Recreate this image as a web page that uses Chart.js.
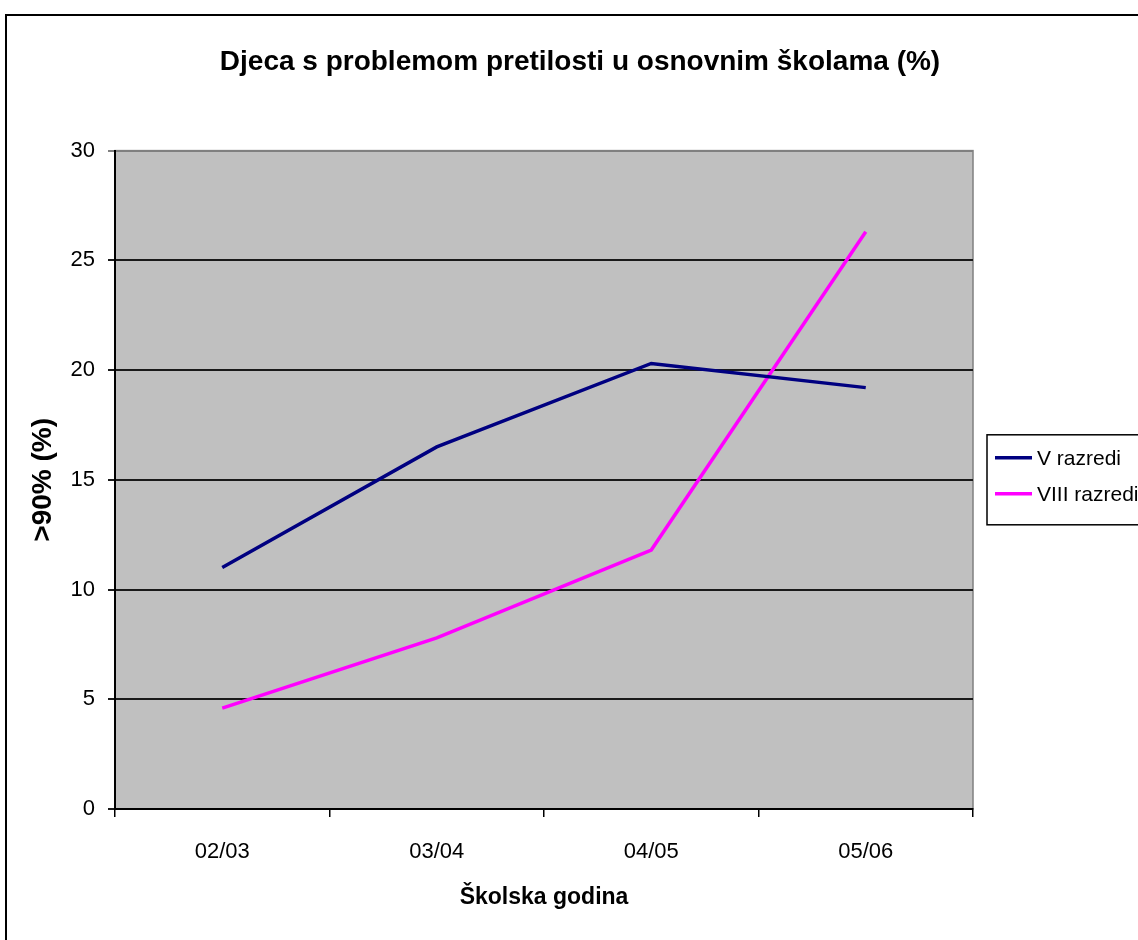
<!DOCTYPE html>
<html>
<head>
<meta charset="utf-8">
<script src="https://cdn.jsdelivr.net/npm/chart.js@4"></script>
<style>
  html, body { margin: 0; padding: 0; background: #fff; overflow: hidden; }
  #wrap { position: absolute; left: 0; top: 0; width: 1160px; height: 940px; }
</style>
</head>
<body>
<div id="wrap"><canvas id="chart" width="1160" height="940"></canvas></div>
<script>
// School years on the x axis
const categories = ['02/03', '03/04', '04/05', '05/06'];
// Share of obese children (%), grade V and grade VIII
const gradeV = [11.0, 16.5, 20.3, 19.2];
const gradeVIII = [4.6, 7.8, 11.8, 26.3];
const seriesNames = ['V razredi', 'VIII razredi'];
const seriesColors = ['#000080', '#FF00FF'];
const yTicks = [0, 5, 10, 15, 20, 25, 30];

const FONT = "'Liberation Sans', Arial, sans-serif";

// Grey plot background, plot frame and outer frame of the figure
const backdrop = {
  id: 'backdrop',
  beforeDraw(chart) {
    const { ctx, chartArea: a } = chart;
    ctx.save();
    ctx.fillStyle = '#fff';
    ctx.fillRect(0, 0, chart.width, chart.height);
    ctx.strokeStyle = '#000';
    ctx.lineWidth = 2;
    ctx.strokeRect(6, 15, 1400, 1400);
    ctx.fillStyle = '#C0C0C0';
    ctx.fillRect(a.left, a.top, a.right - a.left, a.bottom - a.top);
    ctx.strokeStyle = '#808080';
    ctx.lineWidth = 1.5;
    ctx.strokeRect(a.left, a.top, a.right - a.left, a.bottom - a.top);
    ctx.restore();
  }
};

// Boxed legend to the right of the plot
const boxLegend = {
  id: 'boxLegend',
  afterDraw(chart) {
    const { ctx, chartArea: a } = chart;
    const x = a.right + 14, h = 90, y = (a.top + a.bottom) / 2 - h / 2;
    ctx.save();
    ctx.fillStyle = '#fff';
    ctx.fillRect(x, y, 300, h);
    ctx.strokeStyle = '#000';
    ctx.lineWidth = 1.5;
    ctx.strokeRect(x, y, 300, h);
    ctx.font = '21px ' + FONT;
    ctx.textBaseline = 'middle';
    ctx.textAlign = 'left';
    chart.data.datasets.forEach((ds, i) => {
      const ly = y + 23 + i * 36;
      ctx.strokeStyle = ds.borderColor;
      ctx.lineWidth = 3.5;
      ctx.beginPath();
      ctx.moveTo(x + 8, ly);
      ctx.lineTo(x + 45, ly);
      ctx.stroke();
      ctx.fillStyle = '#000';
      ctx.fillText(ds.label, x + 50, ly + 1);
    });
    ctx.restore();
  }
};

new Chart(document.getElementById('chart'), {
  type: 'line',
  data: {
    labels: categories,
    datasets: [
      { label: seriesNames[0], data: gradeV, borderColor: seriesColors[0], backgroundColor: seriesColors[0],
        borderWidth: 3.5, pointRadius: 0, tension: 0, fill: false },
      { label: seriesNames[1], data: gradeVIII, borderColor: seriesColors[1], backgroundColor: seriesColors[1],
        borderWidth: 3.5, pointRadius: 0, tension: 0, fill: false }
    ]
  },
  options: {
    responsive: false,
    animation: false,
    layout: { padding: 0 },
    plugins: {
      legend: { display: false },
      tooltip: { enabled: false },
      title: {
        display: true,
        text: 'Djeca s problemom pretilosti u osnovnim školama (%)',
        color: '#000',
        font: { family: FONT, size: 28, weight: 'bold' },
        padding: { top: 45, bottom: 72 }
      }
    },
    scales: {
      x: {
        offset: true,
        grid: { offset: true, drawOnChartArea: false, drawTicks: true, tickLength: 8, color: '#000', lineWidth: 1.5 },
        border: { color: '#000', width: 2 },
        ticks: { color: '#000', font: { family: FONT, size: 22 }, padding: 22, maxRotation: 0 },
        title: { display: true, text: 'Školska godina', color: '#000',
                 font: { family: FONT, size: 23, weight: 'bold' }, padding: { top: 0, bottom: 29 } },
        afterFit(scale) { scale.height = 131; }
      },
      y: {
        min: 0, max: 30,
        afterBuildTicks(scale) { scale.ticks = yTicks.map(v => ({ value: v })); },
        grid: {
          drawTicks: true, tickLength: 7, lineWidth: 2,
          color: ctx => (ctx.tick && ctx.tick.value === 30) ? '#808080' : '#1a1a1a'
        },
        border: { color: '#000', width: 2 },
        ticks: { color: '#000', font: { family: FONT, size: 22 }, padding: 13 },
        title: { display: true, text: '>90% (%)', color: '#000',
                 font: { family: FONT, size: 28, weight: 'bold' }, padding: { top: 26, bottom: 0 } },
        afterFit(scale) { scale.width = 115; }
      },
      // empty strip on the right that holds the legend
      side: {
        position: 'right',
        display: true,
        grid: { display: false },
        border: { display: false },
        ticks: { display: false },
        afterFit(scale) { scale.width = 187; }
      }
    }
  },
  plugins: [backdrop, boxLegend]
});
</script>
</body>
</html>
